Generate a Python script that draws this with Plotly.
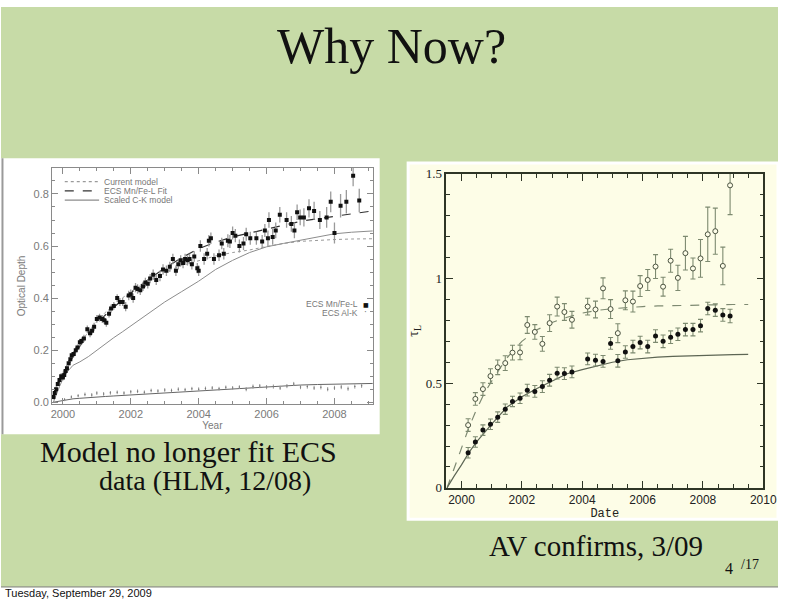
import plotly.graph_objects as go

W, H = 792, 612

# ---------------- Left chart data (ECS optical depth) ----------------
mnfe_year = [1999.72, 1999.76, 1999.80, 1999.85, 1999.90, 1999.95, 2000.00, 2000.04, 2000.08, 2000.12,
             2000.17, 2000.22, 2000.26, 2000.32, 2000.38, 2000.43, 2000.50, 2000.55, 2000.62, 2000.72,
             2000.80, 2000.86, 2000.92, 2001.00, 2001.08, 2001.16, 2001.22, 2001.28, 2001.36, 2001.42,
             2001.50, 2001.60, 2001.68, 2001.76, 2001.85, 2001.94, 2002.00, 2002.07, 2002.14, 2002.20,
             2002.28, 2002.36, 2002.43, 2002.50, 2002.57, 2002.66, 2002.75, 2002.86, 2002.95, 2003.05,
             2003.15, 2003.24, 2003.33, 2003.40, 2003.47, 2003.54, 2003.60, 2003.67, 2003.73, 2003.80,
             2003.87, 2003.96, 2004.00, 2004.05, 2004.16, 2004.25, 2004.30, 2004.36, 2004.45, 2004.60,
             2004.68, 2004.74, 2004.86, 2004.92, 2005.00, 2005.08, 2005.20, 2005.32, 2005.40, 2005.52,
             2005.70, 2005.87, 2005.95, 2006.04, 2006.07, 2006.18, 2006.27, 2006.39, 2006.59, 2006.73,
             2006.82, 2006.90, 2006.99, 2007.10, 2007.25, 2007.40, 2007.57, 2007.77, 2007.89, 2008.00,
             2008.18, 2008.35, 2008.55, 2008.73]
mnfe_tau = [0.020, 0.035, 0.050, 0.070, 0.085, 0.100, 0.095, 0.105, 0.120, 0.130,
            0.150, 0.165, 0.180, 0.185, 0.200, 0.210, 0.230, 0.235, 0.245, 0.280,
            0.265, 0.275, 0.290, 0.320, 0.325, 0.320, 0.315, 0.305, 0.340, 0.360,
            0.370, 0.400, 0.385, 0.385, 0.367, 0.410, 0.415, 0.400, 0.440, 0.435,
            0.430, 0.445, 0.460, 0.455, 0.475, 0.490, 0.470, 0.485, 0.510, 0.505,
            0.520, 0.550, 0.505, 0.530, 0.545, 0.535, 0.550, 0.545, 0.550, 0.530,
            0.560, 0.515, 0.505, 0.600, 0.550, 0.570, 0.620, 0.630, 0.550, 0.565,
            0.610, 0.570, 0.620, 0.617, 0.650, 0.640, 0.600, 0.610, 0.645, 0.630,
            0.630, 0.617, 0.660, 0.630, 0.700, 0.635, 0.660, 0.720, 0.700, 0.685,
            0.660, 0.730, 0.710, 0.710, 0.745, 0.735, 0.700, 0.710, 0.770, 0.650,
            0.755, 0.770, 0.870, 0.775]
mnfe_err = [0.010, 0.010, 0.010, 0.010, 0.010, 0.012, 0.012, 0.012, 0.012, 0.012,
            0.012, 0.012, 0.012, 0.012, 0.012, 0.012, 0.014, 0.014, 0.014, 0.015,
            0.015, 0.015, 0.015, 0.015, 0.015, 0.015, 0.015, 0.015, 0.015, 0.015,
            0.015, 0.015, 0.015, 0.015, 0.018, 0.018, 0.018, 0.018, 0.018, 0.018,
            0.018, 0.018, 0.018, 0.018, 0.018, 0.020, 0.020, 0.020, 0.020, 0.020,
            0.020, 0.020, 0.020, 0.020, 0.020, 0.020, 0.020, 0.020, 0.020, 0.020,
            0.020, 0.020, 0.020, 0.022, 0.022, 0.022, 0.022, 0.022, 0.022, 0.022,
            0.022, 0.022, 0.025, 0.025, 0.025, 0.025, 0.025, 0.025, 0.025, 0.025,
            0.025, 0.025, 0.025, 0.030, 0.030, 0.030, 0.030, 0.030, 0.030, 0.030,
            0.030, 0.030, 0.030, 0.035, 0.035, 0.035, 0.035, 0.040, 0.040, 0.040,
            0.045, 0.045, 0.040, 0.045]

alk_year = [2000.05, 2000.25, 2000.45, 2000.65, 2000.85, 2001.0, 2001.2, 2001.4, 2001.6, 2001.8,
            2002.0, 2002.2, 2002.4, 2002.6, 2002.8, 2003.0, 2003.2, 2003.4, 2003.6, 2003.8,
            2004.0, 2004.2, 2004.4, 2004.6, 2004.8, 2005.0, 2005.2, 2005.4, 2005.6, 2005.8,
            2006.0, 2006.2, 2006.4, 2006.6, 2006.8, 2007.0, 2007.2, 2007.4, 2007.6, 2007.8,
            2008.0, 2008.2, 2008.4, 2008.6, 2008.8]
alk_tau = [0.010, 0.020, 0.025, 0.030, 0.028, 0.035, 0.032, 0.036, 0.038, 0.035,
           0.040, 0.042, 0.038, 0.045, 0.043, 0.047, 0.045, 0.050, 0.048, 0.052,
           0.050, 0.053, 0.055, 0.052, 0.057, 0.055, 0.058, 0.050, 0.060, 0.062,
           0.058, 0.060, 0.055, 0.062, 0.070, 0.058, 0.060, 0.055, 0.057, 0.050,
           0.055, 0.058, 0.052, 0.060, 0.063]
alk_err = [0.006, 0.006, 0.006, 0.007, 0.007, 0.007, 0.007, 0.007, 0.007, 0.007,
           0.007, 0.007, 0.007, 0.007, 0.007, 0.007, 0.007, 0.007, 0.007, 0.007,
           0.007, 0.007, 0.007, 0.007, 0.007, 0.007, 0.007, 0.008, 0.008, 0.008,
           0.008, 0.008, 0.008, 0.008, 0.008, 0.008, 0.008, 0.008, 0.008, 0.008,
           0.008, 0.008, 0.008, 0.008, 0.008]

model_year = [1999.72, 1999.8, 1999.9, 2000.0, 2000.15, 2000.3, 2000.5, 2000.75, 2001.0, 2001.25,
              2001.5, 2001.75, 2002.0, 2002.5, 2003.0, 2003.5, 2004.0, 2004.5, 2005.0, 2005.5,
              2006.0, 2006.5, 2007.0, 2007.5, 2008.0, 2008.5, 2009.13]
ecs_fit = [0.020, 0.050, 0.080, 0.105, 0.140, 0.175, 0.215, 0.260, 0.300, 0.335,
           0.365, 0.392, 0.420, 0.470, 0.515, 0.555, 0.590, 0.615, 0.635, 0.650,
           0.665, 0.680, 0.695, 0.705, 0.715, 0.725, 0.735]
current_model = [0.030, 0.060, 0.090, 0.115, 0.150, 0.185, 0.225, 0.270, 0.310, 0.345,
                 0.375, 0.400, 0.425, 0.465, 0.500, 0.525, 0.545, 0.562, 0.575, 0.585,
                 0.598, 0.610, 0.618, 0.622, 0.625, 0.627, 0.628]
ck_model = [0.000, 0.030, 0.060, 0.090, 0.120, 0.142, 0.155, 0.175, 0.200, 0.225,
            0.248, 0.270, 0.293, 0.340, 0.385, 0.425, 0.465, 0.510, 0.545, 0.575,
            0.597, 0.610, 0.622, 0.635, 0.647, 0.653, 0.658]
alk_model = [0.000, 0.002, 0.005, 0.008, 0.011, 0.013, 0.015, 0.018, 0.020, 0.022,
             0.024, 0.026, 0.028, 0.032, 0.036, 0.040, 0.044, 0.048, 0.052, 0.056,
             0.060, 0.063, 0.066, 0.068, 0.070, 0.071, 0.072]

left_xticks = [2000, 2002, 2004, 2006, 2008]
left_yticks = [0.0, 0.2, 0.4, 0.6, 0.8]
left_ytext = ["0.0", "0.2", "0.4", "0.6", "0.8"]
legend_labels = ["Current model", "ECS Mn/Fe-L Fit", "Scaled C-K model"]

# ---------------- Right chart data (tau_L vs date) ----------------
av_date = [2000.22, 2000.46, 2000.71, 2000.96, 2001.20, 2001.45, 2001.69, 2001.94, 2002.18, 2002.43,
           2002.68, 2002.92, 2003.17, 2003.41, 2003.66, 2004.18, 2004.44, 2004.69, 2004.94, 2005.18,
           2005.43, 2005.68, 2005.92, 2006.17, 2006.43, 2006.68, 2006.93, 2007.17, 2007.42, 2007.67,
           2007.92, 2008.16, 2008.41, 2008.66, 2008.90]
open_tau = [0.300, 0.425, 0.472, 0.534, 0.576, 0.596, 0.646, 0.647, 0.778, 0.745,
            0.688, 0.787, 0.866, 0.840, 0.803, 0.866, 0.852, 0.953, 0.854, 0.739,
            0.896, 0.890, 0.964, 0.993, 1.057, 0.961, 1.085, 1.003, 1.121, 1.048,
            1.096, 1.211, 1.226, 1.060, 1.445]
open_err = [0.030, 0.030, 0.030, 0.035, 0.035, 0.035, 0.035, 0.035, 0.040, 0.035,
            0.035, 0.040, 0.045, 0.040, 0.040, 0.040, 0.040, 0.050, 0.045, 0.045,
            0.045, 0.050, 0.050, 0.050, 0.057, 0.045, 0.055, 0.060, 0.080, 0.050,
            0.090, 0.130, 0.110, 0.090, 0.140]
filled_tau = [0.168, 0.219, 0.276, 0.304, 0.338, 0.376, 0.413, 0.428, 0.467, 0.461,
              0.484, 0.514, 0.548, 0.546, 0.554, 0.616, 0.610, 0.604, 0.690, 0.607,
              0.649, 0.675, 0.694, 0.675, 0.725, 0.700, 0.720, 0.734, 0.756, 0.756,
              0.775, 0.857, 0.849, 0.826, 0.821]
filled_err = [0.025, 0.025, 0.025, 0.025, 0.025, 0.025, 0.025, 0.025, 0.028, 0.028,
              0.028, 0.028, 0.028, 0.028, 0.028, 0.028, 0.028, 0.028, 0.028, 0.030,
              0.030, 0.030, 0.030, 0.030, 0.030, 0.030, 0.030, 0.030, 0.030, 0.030,
              0.030, 0.030, 0.030, 0.030, 0.032]

fit_date = [1999.52, 1999.6, 1999.75, 2000.0, 2000.25, 2000.5, 2000.75, 2001.0, 2001.5, 2002.0,
            2002.5, 2003.0, 2003.5, 2004.0, 2004.5, 2005.0, 2005.5, 2006.0, 2006.5, 2007.0,
            2007.5, 2008.0, 2008.5, 2009.0, 2009.5]
dash_fit = [0.000, 0.030, 0.090, 0.190, 0.290, 0.375, 0.450, 0.510, 0.620, 0.700,
            0.755, 0.790, 0.815, 0.835, 0.848, 0.856, 0.862, 0.866, 0.869, 0.871,
            0.873, 0.874, 0.875, 0.876, 0.876]
solid_fit = [0.000, 0.020, 0.055, 0.110, 0.170, 0.220, 0.265, 0.305, 0.385, 0.435,
             0.475, 0.510, 0.545, 0.565, 0.583, 0.600, 0.612, 0.620, 0.625, 0.628,
             0.631, 0.634, 0.636, 0.637, 0.638]

right_yticks = [0, 0.5, 1, 1.5]
right_ytext = ["0", "0.5", "1", "1.5"]

# ---------------- helpers ----------------
def px(x):
    return x / W

def py(y):
    return 1 - y / H

GREEN = "#c7dba7"
LGRAY = "#8a8a8a"
DARK = "#2e3526"
EBAR = "#7d8a70"

fig = go.Figure()

# Left chart traces
fig.add_trace(go.Scatter(x=model_year, y=current_model, mode="lines", xaxis="x", yaxis="y",
                         line=dict(color="#9a9a9a", width=1, dash="dot"), showlegend=False))
fig.add_trace(go.Scatter(x=model_year, y=ecs_fit, mode="lines", xaxis="x", yaxis="y",
                         line=dict(color="#333333", width=1.2, dash="dash"), showlegend=False))
fig.add_trace(go.Scatter(x=model_year, y=ck_model, mode="lines", xaxis="x", yaxis="y",
                         line=dict(color="#8c8c8c", width=1), showlegend=False))
fig.add_trace(go.Scatter(x=model_year, y=alk_model, mode="lines", xaxis="x", yaxis="y",
                         line=dict(color="#666666", width=1), showlegend=False))
fig.add_trace(go.Scatter(x=alk_year, y=alk_tau, mode="markers", xaxis="x", yaxis="y",
                         marker=dict(color="#777777", size=1.5),
                         error_y=dict(type="data", array=alk_err, color="#999999", thickness=1, width=0),
                         showlegend=False))
fig.add_trace(go.Scatter(x=mnfe_year, y=mnfe_tau, mode="markers", xaxis="x", yaxis="y",
                         marker=dict(color="#111111", size=4, symbol="square"),
                         error_y=dict(type="data", array=mnfe_err, color="#9a9a9a", thickness=1.3, width=0),
                         showlegend=False))

# Right chart traces
fig.add_trace(go.Scatter(x=fit_date, y=dash_fit, mode="lines", xaxis="x2", yaxis="y2",
                         line=dict(color="#7e8a72", width=1.2, dash="dash"), showlegend=False))
fig.add_trace(go.Scatter(x=fit_date, y=solid_fit, mode="lines", xaxis="x2", yaxis="y2",
                         line=dict(color="#5d6654", width=1.2), showlegend=False))
fig.add_trace(go.Scatter(x=av_date, y=open_tau, mode="markers", xaxis="x2", yaxis="y2",
                         marker=dict(color="#fdfde8", size=5, symbol="circle",
                                     line=dict(color="#4a5240", width=1)),
                         error_y=dict(type="data", array=open_err, color=EBAR, thickness=1.1, width=2.5),
                         showlegend=False))
fig.add_trace(go.Scatter(x=av_date, y=filled_tau, mode="markers", xaxis="x2", yaxis="y2",
                         marker=dict(color="#111111", size=5, symbol="circle"),
                         error_y=dict(type="data", array=filled_err, color=EBAR, thickness=1.1, width=2.5),
                         showlegend=False))

shapes = [
    # slide background
    dict(type="rect", xref="paper", yref="paper", x0=0, x1=1, y0=py(594), y1=1,
         fillcolor=GREEN, line=dict(width=0), layer="below"),
    dict(type="line", xref="paper", yref="paper", x0=0, x1=1, y0=py(594.5), y1=py(594.5),
         line=dict(color="#6f7566", width=1), layer="below"),
    # left image frame
    dict(type="rect", xref="paper", yref="paper", x0=px(0), x1=px(386), y0=py(438), y1=py(155),
         fillcolor="white", line=dict(width=0), layer="below"),
    dict(type="line", xref="paper", yref="paper", x0=px(1.5), x1=px(1.5), y0=py(438), y1=py(155),
         line=dict(color="#9a9a9a", width=2), layer="below"),
    # right image frame
    dict(type="rect", xref="paper", yref="paper", x0=px(415), x1=px(792), y0=py(525), y1=py(160),
         fillcolor="#fdfde7", line=dict(color="#ffffff", width=3), layer="below"),
]

# legend samples for left chart
leg_y = [179, 188.5, 198]
leg_dash = ["dot", "dash", "solid"]
leg_col = ["#9a9a9a", "#333333", "#8c8c8c"]
for yy, dd, cc in zip(leg_y, leg_dash, leg_col):
    shapes.append(dict(type="line", xref="paper", yref="paper", x0=px(65), x1=px(100),
                       y0=py(yy), y1=py(yy), line=dict(color=cc, width=1.2, dash=dd)))

def ann(text, x, y, size, family, color="#111111", xanchor="center"):
    return dict(text=text, x=px(x), y=py(y), xref="paper", yref="paper", showarrow=False,
                font=dict(family=family, size=size, color=color), xanchor=xanchor,
                yanchor="middle", borderpad=0)

annotations = [
    ann("Why Now?", 398, 40, 50, "Liberation Serif"),
    ann("Model no longer fit ECS", 191, 456, 30, "Liberation Serif"),
    ann("data (HLM, 12/08)", 208, 485, 28, "Liberation Serif"),
    ann("AV confirms, 3/09", 606, 553, 29, "Liberation Serif"),
    ann("4", 742, 576, 16, "Liberation Serif"),
    ann("/17", 763, 571, 14, "Liberation Serif"),
    ann("Tuesday, September 29, 2009", 3, 601, 11, "Liberation Sans", xanchor="left"),
    ann("ECS Mn/Fe-L", 365, 304.5, 8.5, "Liberation Sans", color="#777777", xanchor="right"),
    ann("■", 372, 304.5, 6, "DejaVu Sans"),
    ann("ECS Al-K", 365, 314, 8.5, "Liberation Sans", color="#777777", xanchor="right"),
    ann("·", 372, 313, 9, "DejaVu Sans", color="#777777"),
]
for yy, lab in zip(leg_y, legend_labels):
    annotations.append(ann(lab, 104, yy, 8.5, "Liberation Sans", color="#777777", xanchor="left"))

left_axis_common = dict(showgrid=False, zeroline=False, showline=True, linecolor=LGRAY, linewidth=1,
                        mirror="ticks", ticks="inside", tickcolor=LGRAY, tickwidth=1)
right_axis_common = dict(showgrid=False, zeroline=False, showline=True, linecolor=DARK, linewidth=1.5,
                         mirror="ticks", ticks="inside", tickcolor=DARK, tickwidth=1)

fig.update_layout(
    width=W, height=H, margin=dict(l=0, r=0, t=0, b=0),
    paper_bgcolor="white", plot_bgcolor="rgba(0,0,0,0)",
    showlegend=False,
    shapes=shapes, annotations=annotations,
    xaxis=dict(domain=[px(52), px(379)], range=[1999.68, 2009.13], anchor="y",
               tickvals=left_xticks, ticklen=6,
               minor=dict(dtick=0.5, tick0=2000, ticks="inside", ticklen=3, tickcolor=LGRAY),
               tickfont=dict(family="Liberation Sans", size=11, color="#7a7a7a"),
               title=dict(text="Year", font=dict(family="Liberation Sans", size=10, color="#7a7a7a"), standoff=2),
               **left_axis_common),
    yaxis=dict(domain=[py(407), py(165)], range=[-0.007, 0.9], anchor="x",
               tickvals=left_yticks, ticktext=left_ytext, ticklen=6,
               minor=dict(dtick=0.05, tick0=0, ticks="inside", ticklen=3, tickcolor=LGRAY),
               tickfont=dict(family="Liberation Sans", size=11, color="#7a7a7a"),
               title=dict(text="Optical Depth", font=dict(family="Liberation Sans", size=10, color="#7a7a7a"), standoff=6),
               **left_axis_common),
    xaxis2=dict(domain=[px(454), px(777)], range=[1999.5, 2010], anchor="y2",
                tick0=2000, dtick=2, ticklen=7,
                minor=dict(dtick=0.5, tick0=2000, ticks="inside", ticklen=4, tickcolor=DARK),
                tickfont=dict(family="Liberation Sans", size=12, color="#222222"),
                title=dict(text="Date", font=dict(family="Liberation Mono", size=12, color="#222222"), standoff=2),
                **right_axis_common),
    yaxis2=dict(domain=[py(493), py(171)], range=[0, 1.5], anchor="x2",
                tickvals=right_yticks, ticktext=right_ytext, ticklen=7,
                minor=dict(dtick=0.1, tick0=0, ticks="inside", ticklen=4, tickcolor=DARK),
                tickfont=dict(family="Liberation Serif", size=13, color="#222222"),
                title=dict(text="τ<sub>L</sub>", font=dict(family="Liberation Serif", size=14, color="#222222"), standoff=4),
                **right_axis_common),
)

fig.write_html("out.html")
